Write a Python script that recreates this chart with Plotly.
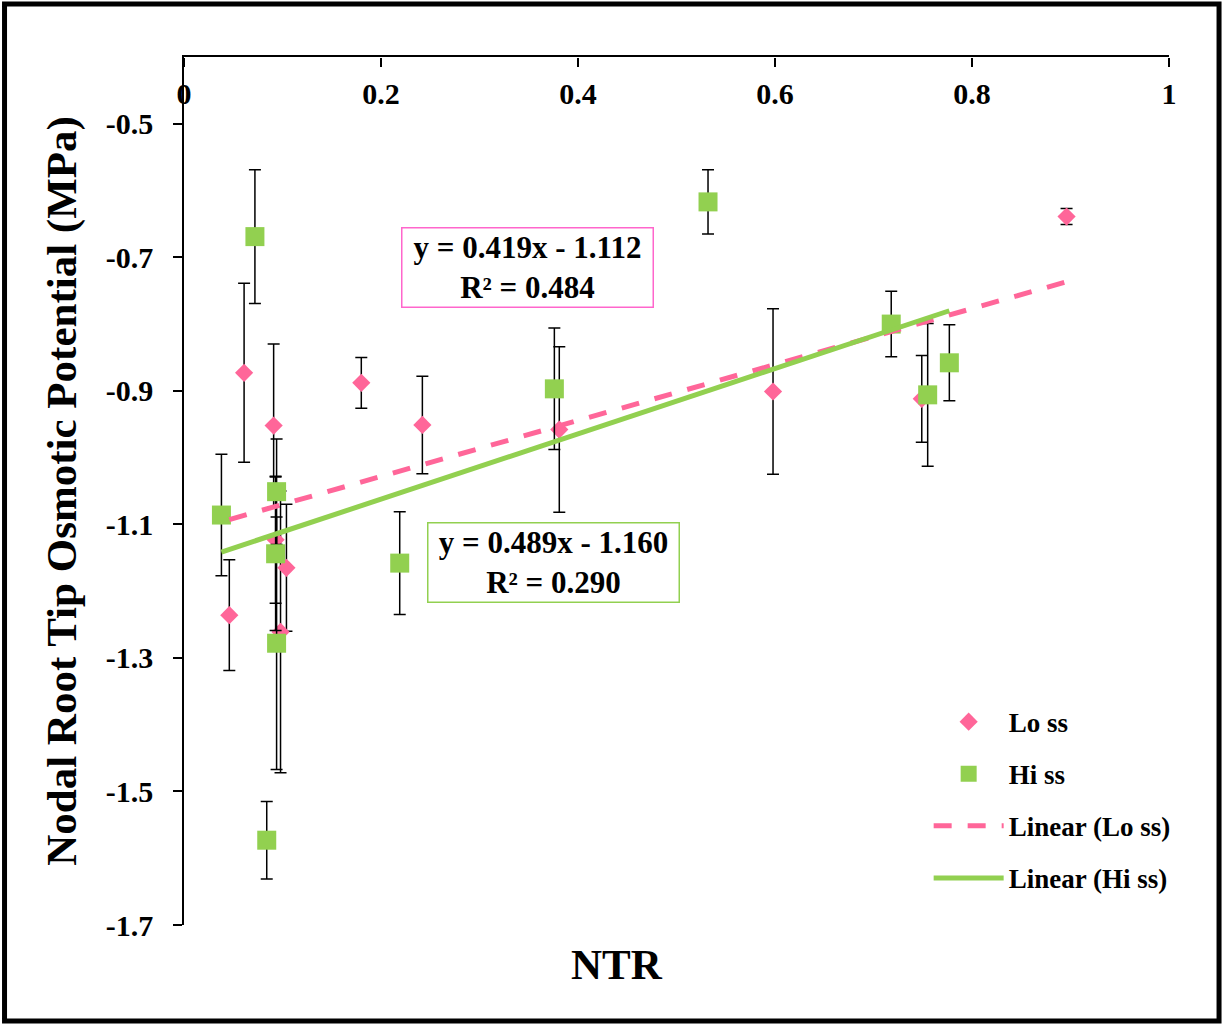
import plotly.graph_objects as go

# ---- data ----
lo_x = [0.046, 0.061, 0.091, 0.093, 0.098, 0.104, 0.180, 0.242, 0.381, 0.598, 0.749, 0.896]
lo_y = [-1.236, -0.873, -0.952, -1.123, -1.261, -1.165, -0.888, -0.951, -0.958, -0.901, -0.912, -0.639]
lo_err = [0.083, 0.134, 0.122, 0.095, 0.211, 0.095, 0.038, 0.073, 0.124, 0.124, 0.065, 0.012]

hi_x = [0.038, 0.072, 0.084, 0.094, 0.093, 0.094, 0.219, 0.376, 0.532, 0.718, 0.755, 0.777]
hi_y = [-1.086, -0.669, -1.573, -1.051, -1.144, -1.278, -1.158, -0.897, -0.617, -0.800, -0.906, -0.858]
hi_err = [0.091, 0.100, 0.058, 0.079, 0.115, 0.189, 0.077, 0.091, 0.048, 0.049, 0.107, 0.057]

lo_slope, lo_int, lo_r2 = 0.419, -1.112, 0.484
hi_slope, hi_int, hi_r2 = 0.489, -1.160, 0.290

x_tickvals = [0, 0.2, 0.4, 0.6, 0.8, 1.0]
x_ticktext = ["0", "0.2", "0.4", "0.6", "0.8", "1"]
y_tickvals = [-1.7, -1.5, -1.3, -1.1, -0.9, -0.7, -0.5]
y_ticktext = ["-1.7", "-1.5", "-1.3", "-1.1", "-0.9", "-0.7", "-0.5"]

PINK = "#FF6699"
GREEN = "#92D050"
FONT = "Liberation Serif"

fig = go.Figure()

err_style = dict(type="data", visible=True, color="black", thickness=1.5, width=6)

fig.add_trace(go.Scatter(
    x=lo_x, y=lo_y, mode="markers", name="Lo ss", legendgroup="a",
    marker=dict(symbol="diamond", size=14, color=PINK),
    error_y=dict(array=lo_err, **err_style),
))
fig.add_trace(go.Scatter(
    x=hi_x, y=hi_y, mode="markers", name="Hi ss", legendgroup="b",
    marker=dict(symbol="square", size=19, color=GREEN),
    error_y=dict(array=hi_err, **err_style),
))

lo_tx = [min(lo_x), max(lo_x)]
hi_tx = [min(hi_x), max(hi_x)]
fig.add_trace(go.Scatter(
    x=lo_tx, y=[lo_slope * v + lo_int for v in lo_tx], mode="lines",
    name="Linear (Lo ss)", legendgroup="c",
    line=dict(color=PINK, width=5, dash="18px,16px"),
))
fig.add_trace(go.Scatter(
    x=hi_tx, y=[hi_slope * v + hi_int for v in hi_tx], mode="lines",
    name="Linear (Hi ss)", legendgroup="d",
    line=dict(color=GREEN, width=5),
))
# invisible helper trace so the tick-mark axis (x2) is drawn
fig.add_trace(go.Scatter(
    x=[0, 1], y=[-1.7, -1.7], mode="lines", xaxis="x2", yaxis="y",
    line=dict(width=0, color="rgba(0,0,0,0)"), showlegend=False, hoverinfo="skip",
))

ann_font = dict(family=FONT, size=31, color="black", weight="bold")
fig.add_annotation(
    x=0.349, y=-0.715, xref="x", yref="y", showarrow=False,
    text=f"y = {lo_slope:.3f}x - {abs(lo_int):.3f}<br>R² = {lo_r2:.3f}",
    font=ann_font, width=246, height=74,
    bordercolor="#FF66CC", borderwidth=1.5, borderpad=2, bgcolor="white",
)
fig.add_annotation(
    x=0.375, y=-1.157, xref="x", yref="y", showarrow=False,
    text=f"y = {hi_slope:.3f}x - {abs(hi_int):.3f}<br>R² = {hi_r2:.3f}",
    font=ann_font, width=246, height=74,
    bordercolor=GREEN, borderwidth=1.5, borderpad=2, bgcolor="white",
)
fig.add_annotation(
    x=0.44, y=-0.046, xref="paper", yref="paper", showarrow=False,
    yanchor="middle", xanchor="center",
    text="NTR", font=dict(family=FONT, size=43, color="black", weight="bold"),
)

# outer frame
fig.add_shape(type="rect", xref="paper", yref="paper",
              x0=-0.1822, x1=1.0508, y0=-0.1106, y1=1.0611,
              line=dict(color="black", width=5), layer="above")

fig.update_layout(
    width=1225, height=1026,
    margin=dict(l=184, r=56, t=57, b=101, autoexpand=False),
    paper_bgcolor="white", plot_bgcolor="white",
    font=dict(family=FONT, color="black"),
    showlegend=True,
    legend=dict(
        x=0.756, y=0.262, xanchor="left", yanchor="top",
        font=dict(family=FONT, size=27, color="black", weight="bold"),
        tracegroupgap=14, itemwidth=70, bgcolor="rgba(0,0,0,0)",
    ),
    xaxis=dict(
        range=[0, 1], side="top", showline=True, linecolor="black", linewidth=1.5,
        ticks="", tickvals=x_tickvals, ticktext=x_ticktext,
        ticklabelposition="outside", ticklabelstandoff=-61,
        tickfont=dict(family=FONT, size=30, color="black", weight="bold"),
        showgrid=False, zeroline=False, automargin=False,
    ),
    xaxis2=dict(
        range=[0, 1], overlaying="x", anchor="free", position=1.0, side="bottom",
        showline=False, showticklabels=False,
        ticks="outside", ticklen=9, tickcolor="black", tickwidth=1.5,
        tickvals=x_tickvals, showgrid=False, zeroline=False, automargin=False,
    ),
    yaxis=dict(
        range=[-1.7, -0.4], showline=True, linecolor="black", linewidth=1.5,
        ticks="outside", ticklen=9, tickcolor="black", tickwidth=1.5,
        tickvals=y_tickvals, ticktext=y_ticktext, ticklabelstandoff=14,
        tickfont=dict(family=FONT, size=30, color="black", weight="bold"),
        title=dict(text="Nodal Root Tip Osmotic Potential (MPa)", standoff=16,
                   font=dict(family=FONT, size=43, color="black", weight="bold")),
        showgrid=False, zeroline=False, automargin=False,
    ),
)

fig.write_html("out.html")
